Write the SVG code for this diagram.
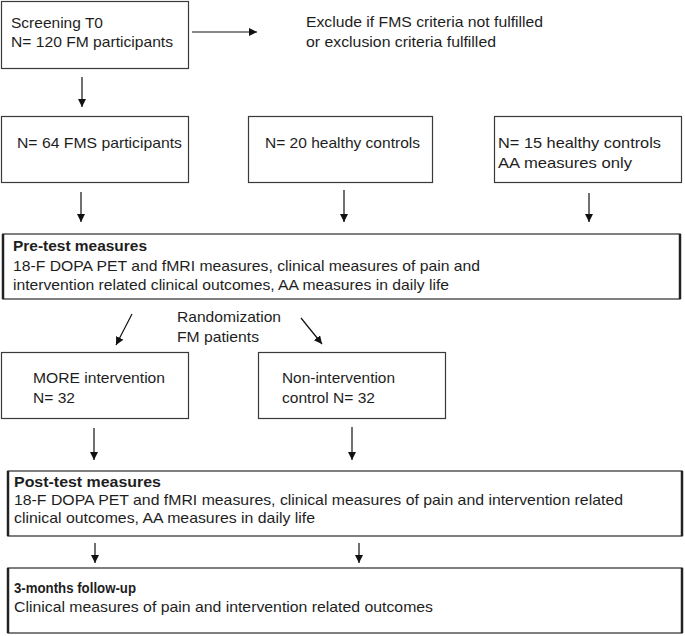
<svg xmlns="http://www.w3.org/2000/svg" width="685" height="636" viewBox="0 0 685 636">
<style>
  .box { fill: #ffffff; stroke: #3a3a3a; stroke-width: 1.2; }
  .big { fill: #ffffff; stroke: #555555; stroke-width: 1.5; }
  .edge { stroke: #222222; stroke-width: 2.5; }
  .t { font-family: "Liberation Sans", Arial, sans-serif; font-size: 15px; fill: #1e1e1e; }
  .b { font-weight: bold; }
  .conn line { stroke: #111111; stroke-width: 1.2; }
</style>
<defs>
  <marker id="arr" markerWidth="8" markerHeight="10" refX="8" refY="4" orient="auto" markerUnits="userSpaceOnUse">
    <path d="M0,0 L8,4 L0,8 Z" fill="#111111"/>
  </marker>
</defs>
<rect x="0" y="0" width="685" height="636" fill="#ffffff"/>

<g id="screening">
  <rect class="box" x="1.5" y="1.5" width="187" height="67"/>
  <text class="t" x="11" y="28" textLength="92" lengthAdjust="spacingAndGlyphs">Screening T0</text>
  <text class="t" x="11" y="47" textLength="162" lengthAdjust="spacingAndGlyphs">N= 120 FM participants</text>
</g>
<g id="exclude">
  <text class="t" x="306" y="27" textLength="237" lengthAdjust="spacingAndGlyphs">Exclude if FMS criteria not fulfilled</text>
  <text class="t" x="306" y="47" textLength="190" lengthAdjust="spacingAndGlyphs">or exclusion criteria fulfilled</text>
</g>
<g id="fms">
  <rect class="box" x="1.5" y="116.5" width="187" height="66"/>
  <text class="t" x="17" y="148" textLength="165" lengthAdjust="spacingAndGlyphs">N= 64 FMS participants</text>
</g>
<g id="hc20">
  <rect class="box" x="248.5" y="116.5" width="184" height="66"/>
  <text class="t" x="265" y="148" textLength="155" lengthAdjust="spacingAndGlyphs">N= 20 healthy controls</text>
</g>
<g id="hc15">
  <rect class="box" x="494.5" y="116.5" width="187" height="66"/>
  <text class="t" x="498" y="148" textLength="163" lengthAdjust="spacingAndGlyphs">N= 15 healthy controls</text>
  <text class="t" x="498" y="168" textLength="134" lengthAdjust="spacingAndGlyphs">AA measures only</text>
</g>
<g id="pretest">
  <rect class="big" x="3" y="234" width="677" height="65"/>
  <line class="edge" x1="3" y1="234" x2="3" y2="299"/>
  <line class="edge" x1="680" y1="234" x2="680" y2="299"/>
  <text class="t b" x="13" y="251" textLength="134" lengthAdjust="spacingAndGlyphs">Pre-test measures</text>
  <text class="t" x="13" y="271" textLength="467" lengthAdjust="spacingAndGlyphs">18-F DOPA PET and fMRI measures, clinical measures of pain and</text>
  <text class="t" x="13" y="290" textLength="436" lengthAdjust="spacingAndGlyphs">intervention related clinical outcomes, AA measures in daily life</text>
</g>
<g id="randomization">
  <text class="t" x="177" y="322" textLength="104" lengthAdjust="spacingAndGlyphs">Randomization</text>
  <text class="t" x="177" y="342" textLength="82" lengthAdjust="spacingAndGlyphs">FM patients</text>
</g>
<g id="more">
  <rect class="box" x="1.5" y="352.5" width="187" height="66"/>
  <text class="t" x="33" y="383" textLength="132" lengthAdjust="spacingAndGlyphs">MORE intervention</text>
  <text class="t" x="33" y="403" textLength="42" lengthAdjust="spacingAndGlyphs">N= 32</text>
</g>
<g id="control">
  <rect class="box" x="258.5" y="352.5" width="187" height="66"/>
  <text class="t" x="282" y="383" textLength="113" lengthAdjust="spacingAndGlyphs">Non-intervention</text>
  <text class="t" x="282" y="403" textLength="93" lengthAdjust="spacingAndGlyphs">control N= 32</text>
</g>
<g id="posttest">
  <rect class="big" x="8" y="471" width="674" height="65"/>
  <line class="edge" x1="8" y1="471" x2="8" y2="536"/>
  <line class="edge" x1="682" y1="471" x2="682" y2="536"/>
  <text class="t b" x="14" y="487" textLength="147" lengthAdjust="spacingAndGlyphs">Post-test measures</text>
  <text class="t" x="14" y="505" textLength="609" lengthAdjust="spacingAndGlyphs">18-F DOPA PET and fMRI measures, clinical measures of pain and intervention related</text>
  <text class="t" x="14" y="523" textLength="301" lengthAdjust="spacingAndGlyphs">clinical outcomes, AA measures in daily life</text>
</g>
<g id="followup">
  <rect class="big" x="8" y="568" width="674" height="65"/>
  <line class="edge" x1="8" y1="568" x2="8" y2="633"/>
  <line class="edge" x1="682" y1="568" x2="682" y2="633"/>
  <text class="t b" x="14" y="593" textLength="122" lengthAdjust="spacingAndGlyphs">3-months follow-up</text>
  <text class="t" x="14" y="612" textLength="419" lengthAdjust="spacingAndGlyphs">Clinical measures of pain and intervention related outcomes</text>
</g>

<g id="connectors" class="conn">
  <line x1="192" y1="32" x2="257" y2="32" marker-end="url(#arr)"/>
  <line x1="82" y1="77" x2="82" y2="107" marker-end="url(#arr)"/>
  <line x1="81" y1="192" x2="81" y2="222" marker-end="url(#arr)"/>
  <line x1="344" y1="190" x2="344" y2="222" marker-end="url(#arr)"/>
  <line x1="589" y1="193" x2="589" y2="222" marker-end="url(#arr)"/>
  <line x1="132" y1="314" x2="116" y2="345" marker-end="url(#arr)"/>
  <line x1="301" y1="318" x2="322" y2="344" marker-end="url(#arr)"/>
  <line x1="94" y1="428" x2="94" y2="460" marker-end="url(#arr)"/>
  <line x1="352" y1="427" x2="352" y2="460" marker-end="url(#arr)"/>
  <line x1="95" y1="543" x2="95" y2="563" marker-end="url(#arr)"/>
  <line x1="359" y1="543" x2="359" y2="563" marker-end="url(#arr)"/>
</g>
</svg>
